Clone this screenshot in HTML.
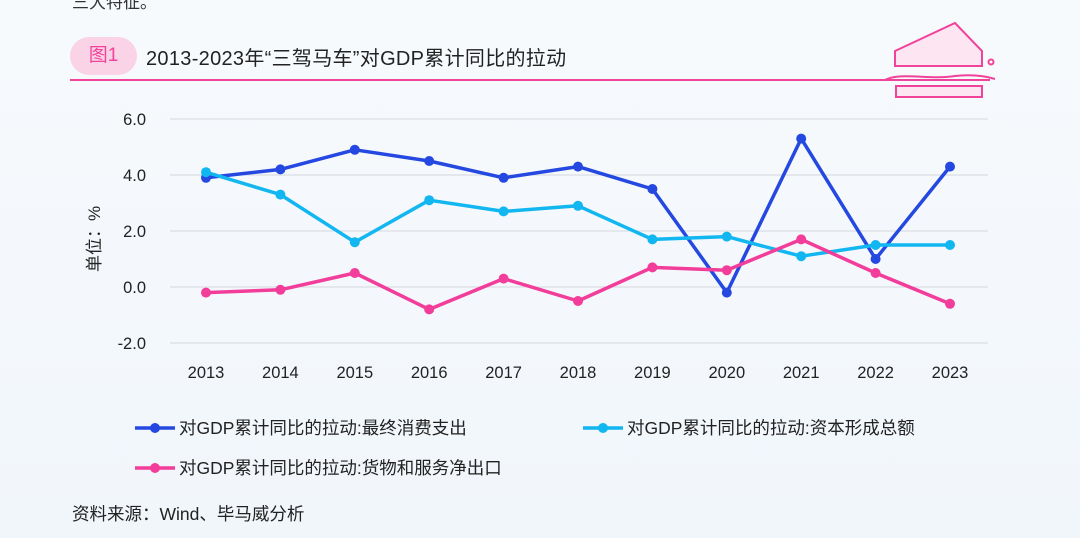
<!DOCTYPE html>
<html><head><meta charset="utf-8"><style>
body{margin:0;width:1080px;height:538px;overflow:hidden;background:linear-gradient(180deg,#f7fafd,#f1f6fb);font-family:"Liberation Sans","Noto Sans CJK SC",sans-serif;color:#222;position:relative}
.t{position:absolute;white-space:nowrap}
</style></head><body>
<div class="t" style="left:72px;top:-12px;font-size:17px;color:#333">三大特征。</div>
<div class="t" style="left:70px;top:37px;width:67px;height:38px;border-radius:19px;background:#fbd3e6;color:#f0449a;font-size:19px;line-height:38px;text-align:center">图1</div>
<div class="t" style="left:146px;top:42px;font-size:20px;letter-spacing:0.3px;color:#222">2013-2023年“三驾马车”对GDP累计同比的拉动</div>
<div style="position:absolute;left:70px;top:79px;width:920px;height:2px;background:#f0449a"></div>
<svg style="position:absolute;left:860px;top:0" width="220" height="110">
<g fill="none" stroke="#f0449a" stroke-width="2">
<path d="M35 51 L95 23 L122 51 L122 66 L35 66 Z" fill="#fde5f1"/>
<path d="M0 80 L25 80 C40 72 70 80 95 76 C110 74 125 76 135 79"/>
<rect x="36" y="86" width="86" height="11" fill="#fde5f1"/>
<circle cx="131" cy="62" r="2.5"/>
</g></svg>
<svg id="c" style="position:absolute;left:0;top:0" width="1080" height="538"></svg>
<div class="t" style="left:80px;font-size:17px;transform:rotate(-90deg);transform-origin:left top;top:272px">单位：%</div>
<div class="t" style="left:72px;top:501px;font-size:17.5px;color:#222">资料来源：Wind、毕马威分析</div>
<script>
const years=["2013","2014","2015","2016","2017","2018","2019","2020","2021","2022","2023"];
const consumption=[3.9,4.2,4.9,4.5,3.9,4.3,3.5,-0.2,5.3,1.0,4.3];
const capital=[4.1,3.3,1.6,3.1,2.7,2.9,1.7,1.8,1.1,1.5,1.5];
const netExports=[-0.2,-0.1,0.5,-0.8,0.3,-0.5,0.7,0.6,1.7,0.5,-0.6];
const yTicks=[6,4,2,0,-2];
const names=["对GDP累计同比的拉动:最终消费支出","对GDP累计同比的拉动:资本形成总额","对GDP累计同比的拉动:货物和服务净出口"];
const svg=document.getElementById('c');const NS="http://www.w3.org/2000/svg";
const X=i=>206+i*74.4, Y=v=>287-v*28;
function mk(t,a,p){const e=document.createElementNS(NS,t);for(const k in a)e.setAttribute(k,a[k]);(p||svg).appendChild(e);return e;}
yTicks.forEach(v=>{const l=mk('line',{x1:170,x2:988,y1:Y(v),y2:Y(v),stroke:'#d4d8de','stroke-width':1});


const t=mk('text',{x:146,y:Y(v)+6,'text-anchor':'end','font-size':16.5,fill:'#222'});t.textContent=v.toFixed(1);

});
years.forEach((y,i)=>{const t=mk('text',{x:X(i),y:378,'text-anchor':'middle','font-size':16.5,fill:'#222'});t.textContent=y;

});
const series=[[consumption,'#2448e0'],[capital,'#12b6f0'],[netExports,'#f23d9a']];
series.forEach(([d,c],s)=>{const g=mk('g',{});


mk('polyline',{points:d.map((v,i)=>X(i)+','+Y(v)).join(' '),fill:'none',stroke:c,'stroke-width':3.5,'stroke-linejoin':'round'},g);
d.forEach((v,i)=>{const p=mk('circle',{cx:X(i),cy:Y(v),r:5,fill:c},g);

});});
const lp=[[135,428],[583,428],[135,468]];
lp.forEach(([x,y],s)=>{const g=mk('g',{});


mk('line',{x1:x,x2:x+40,y1:y,y2:y,stroke:series[s][1],'stroke-width':3.5},g);
mk('circle',{cx:x+20,cy:y,r:5,fill:series[s][1]},g);
const t=mk('text',{x:x+44,y:y+6,'font-size':17.5,fill:'#222'},g);t.textContent=names[s];});
</script>
</body></html>
